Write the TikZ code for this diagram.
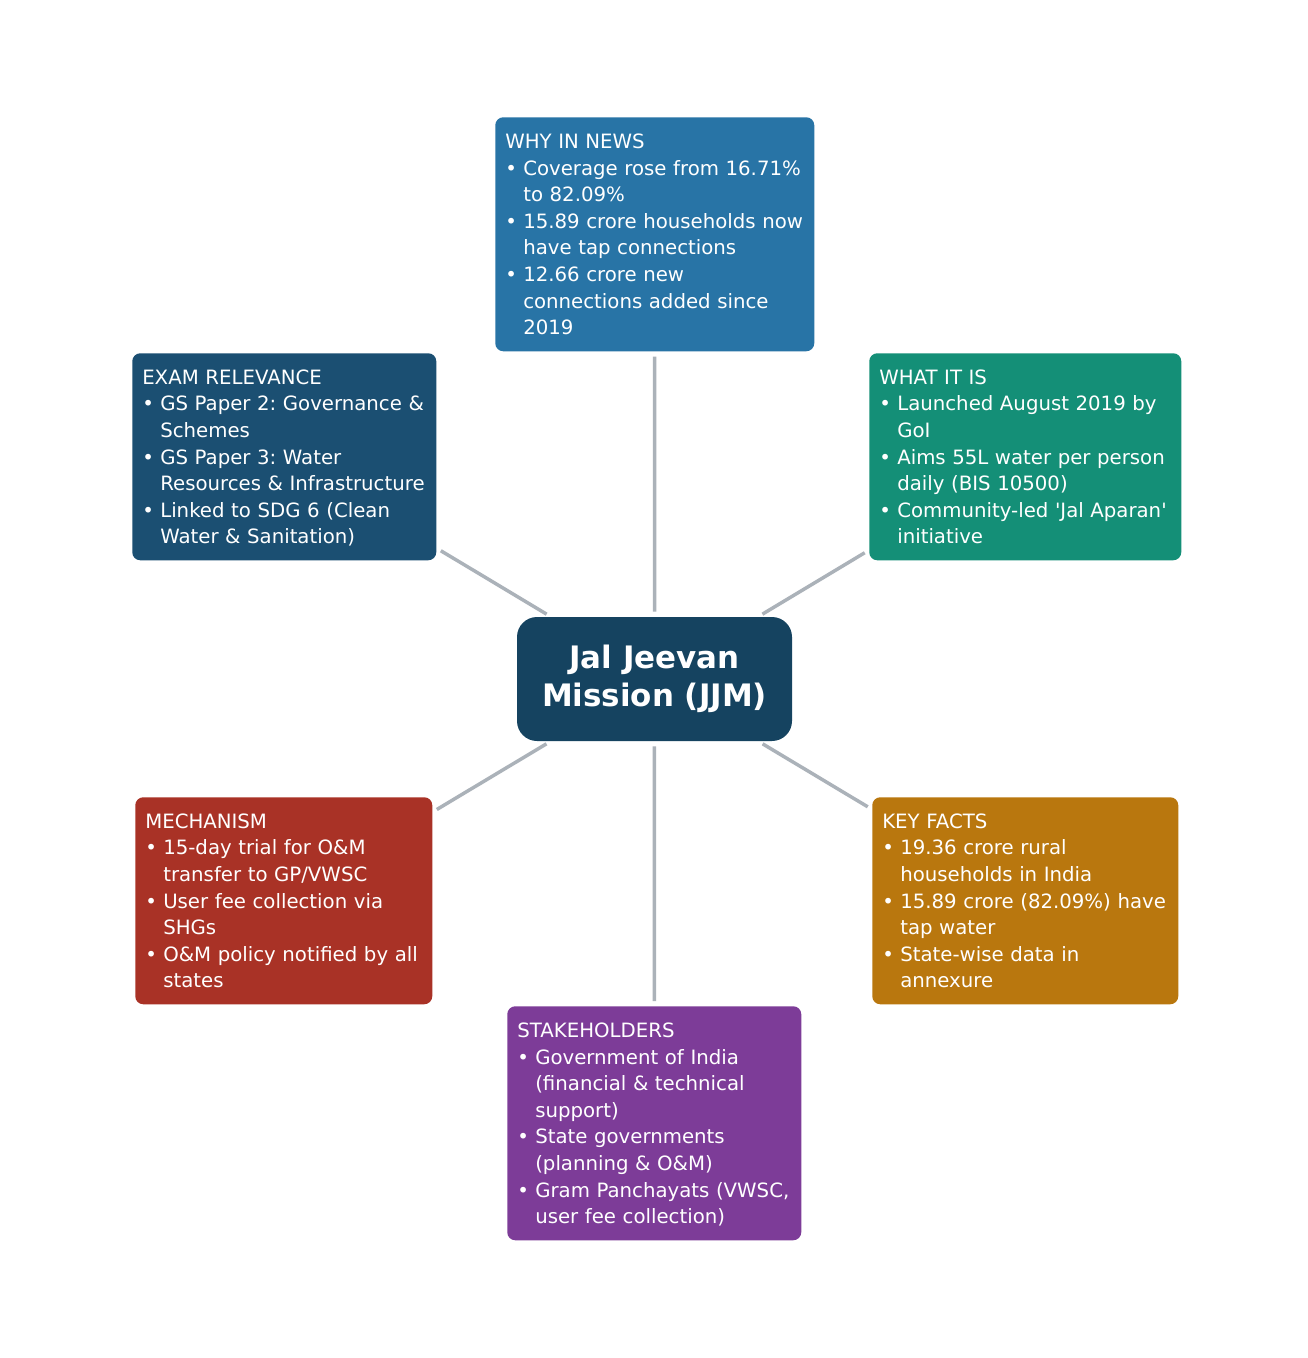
\documentclass[tikz,border=0pt]{standalone}
\usepackage{fontspec}
\setmainfont{DejaVu Sans}
\definecolor{cwhy}{HTML}{2874A6}
\definecolor{cexam}{HTML}{1B4F72}
\definecolor{cwhat}{HTML}{148F77}
\definecolor{ccenter}{HTML}{154360}
\definecolor{cmech}{HTML}{A93226}
\definecolor{ckey}{HTML}{B9770E}
\definecolor{cstake}{HTML}{7D3C98}
\definecolor{linec}{HTML}{ABB2B9}
\newcommand\bl[1]{\mbox{\makebox[13.5pt][l]{•}#1}}
\newcommand\ind[1]{\mbox{\hspace*{13.5pt}#1}}
\newcommand\topstrut{\rule{0pt}{17pt}}
\frenchspacing
\tikzset{
  box/.style={rounded corners=6pt, text=white, anchor=north west, inner xsep=7.5pt, inner ysep=0pt, align=left, font=\frenchspacing\fontsize{14.8}{19.95}\selectfont},
  centerbox/.style={rounded corners=15pt, text=white, fill=ccenter, inner sep=0pt, align=center, font=\bfseries\fontsize{23.2}{28.5}\selectfont},
  conn/.style={draw=linec, line width=2.6pt, shorten >=3.75pt, shorten <=3.75pt},
}
\begin{document}
\begin{tikzpicture}[x=0.75pt,y=-0.75pt]
\fill[white] (0,0) rectangle (1308,1358);
\useasboundingbox (0,0) rectangle (1308,1358);

\node[centerbox, minimum width=206.25pt, minimum height=93pt] (c) at (654.5,679) {Jal Jeevan\\Mission (JJM)};

\node[box, fill=cwhy, minimum width=239.25pt, minimum height=175.5pt, text width=224.25pt] (why) at (495,117)
{\topstrut WHY IN NEWS\\
\bl{Coverage rose from 16.71\%}\\
\ind{to 82.09\%}\\
\bl{15.89 crore households now}\\
\ind{have tap connections}\\
\bl{12.66 crore new}\\
\ind{connections added since}\\
\ind{2019}\strut};

\node[box, fill=cexam, minimum width=228pt, minimum height=155.25pt, text width=213pt] (exam) at (132,353)
{\topstrut EXAM RELEVANCE\\
\bl{GS Paper 2: Governance \&}\\
\ind{Schemes}\\
\bl{GS Paper 3: Water}\\
\ind{Resources \& Infrastructure}\\
\bl{Linked to SDG 6 (Clean}\\
\ind{Water \& Sanitation)}\strut};

\node[box, fill=cwhat, minimum width=234pt, minimum height=155.25pt, text width=219pt] (what) at (869,353)
{\topstrut WHAT IT IS\\
\bl{Launched August 2019 by}\\
\ind{GoI}\\
\bl{Aims 55L water per person}\\
\ind{daily (BIS 10500)}\\
\bl{Community-led \textquotesingle Jal Aparan\textquotesingle}\\
\ind{initiative}\strut};

\node[box, fill=cmech, minimum width=222.75pt, minimum height=155.25pt, text width=207.75pt] (mech) at (135,797)
{\topstrut MECHANISM\\
\bl{15-day trial for O\&M}\\
\ind{transfer to GP/VWSC}\\
\bl{User fee collection via}\\
\ind{SHGs}\\
\bl{O\&M policy notified by all}\\
\ind{states}\strut};

\node[box, fill=ckey, minimum width=229.5pt, minimum height=155.25pt, text width=214.5pt] (key) at (872,797)
{\topstrut KEY FACTS\\
\bl{19.36 crore rural}\\
\ind{households in India}\\
\bl{15.89 crore (82.09\%) have}\\
\ind{tap water}\\
\bl{State-wise data in}\\
\ind{annexure}\strut};

\node[box, fill=cstake, minimum width=220.5pt, minimum height=175.5pt, text width=205.5pt] (stake) at (507,1006)
{\topstrut STAKEHOLDERS\\
\bl{Government of India}\\
\ind{(financial \& technical}\\
\ind{support)}\\
\bl{State governments}\\
\ind{(planning \& O\&M)}\\
\bl{Gram Panchayats (VWSC,}\\
\ind{user fee collection)}\strut};

\draw[conn] (c) -- (why);
\draw[conn] (c) -- (exam);
\draw[conn] (c) -- (what);
\draw[conn] (c) -- (mech);
\draw[conn] (c) -- (key);
\draw[conn] (c) -- (stake);
\end{tikzpicture}
\end{document}
